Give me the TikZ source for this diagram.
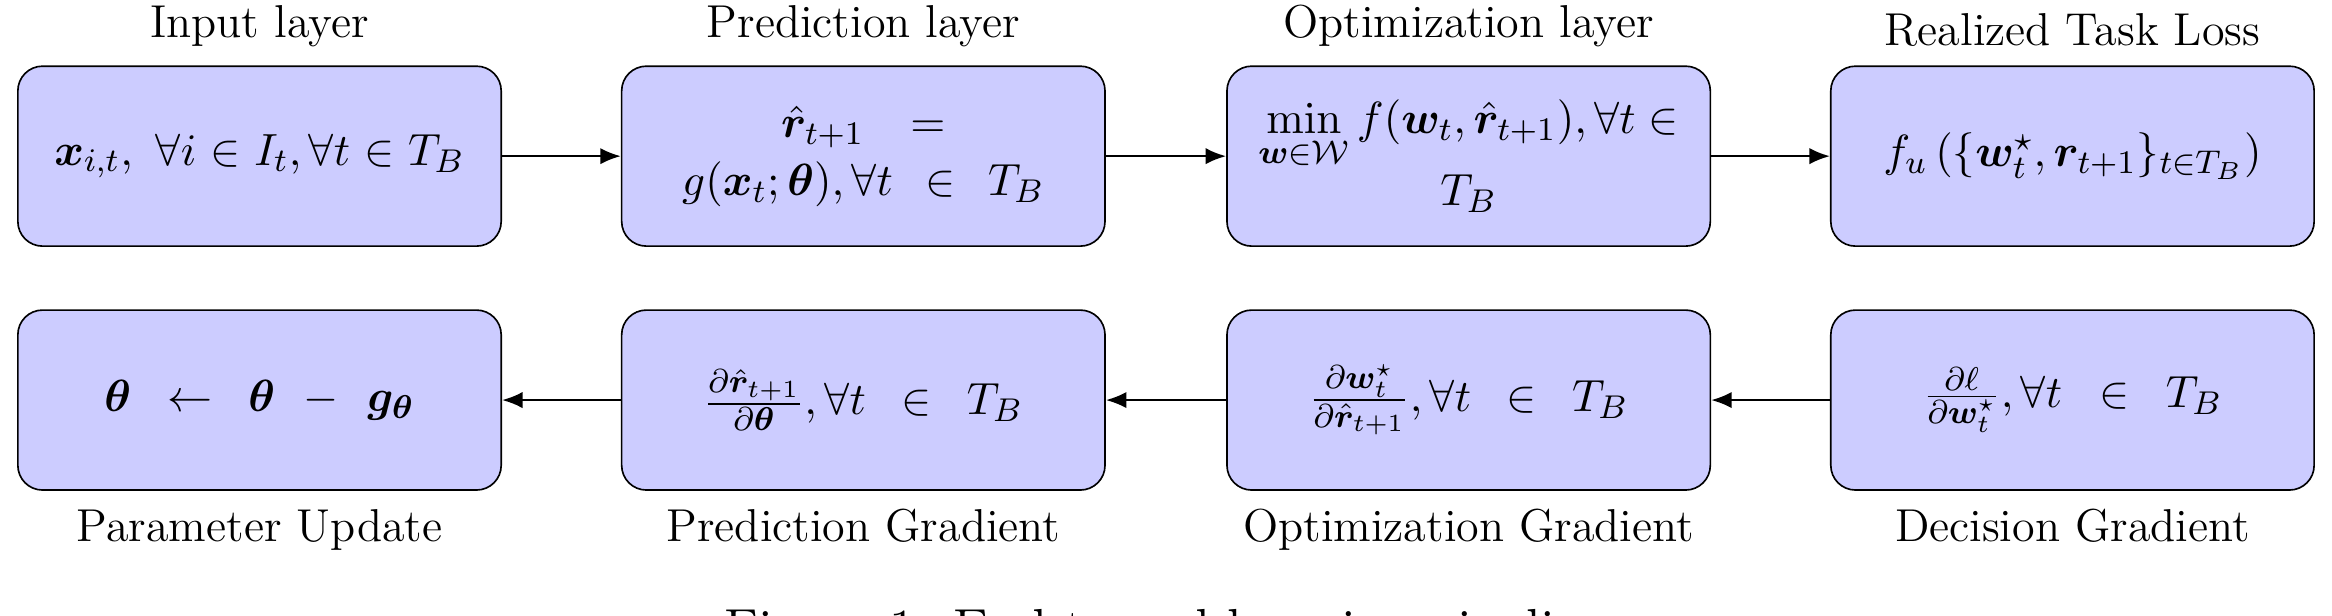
\documentclass[tikz,border=0pt]{standalone}
\usepackage{amsmath,amssymb,bm}
\usetikzlibrary{arrows.meta}
\begin{document}
\begin{tikzpicture}[x=0.0127cm,y=-0.0127cm,
  box/.style={draw,rounded corners=6pt,fill={rgb,255:red,204;green,204;blue,255},minimum width=325*0.0127cm,minimum height=121*0.0127cm,text width=290*0.0127cm,align=center,font=\fontsize{11.2}{14}\selectfont},
  lab/.style={font=\fontsize{11.2}{14}\selectfont},
  arr/.style={-{Latex[length=5pt,width=4pt]},semithick}]
\useasboundingbox (0,0) rectangle (1568,414);
\begin{scope}
\clip (0,0) rectangle (1568,414);
\node[box] (in) at (174.5,105) {$\bm{x}_{i,t},\ \forall i\in I_t,\forall t\in T_B$};
\node[box] (pr) at (580.5,105) {$\hat{\bm{r}}_{t+1}\ =\ g(\bm{x}_t;\bm{\theta}),\forall t\ \in\ T_B$};
\node[box] (op) at (987.5,105) {$\displaystyle\min_{\bm{w}\in\mathcal{W}} f(\bm{w}_t,\hat{\bm{r}}_{t+1}),\forall t\in T_B$};
\node[box] (rl) at (1393.5,105) {$f_u\left(\{\bm{w}^\star_t,\bm{r}_{t+1}\}_{t\in T_B}\right)$};
\node[box] (pu) at (174.5,269) {$\bm{\theta}\ \leftarrow\ \bm{\theta}\ -\ \bm{g}_{\bm{\theta}}$};
\node[box] (pg) at (580.5,269) {$\frac{\partial\hat{\bm{r}}_{t+1}}{\partial\bm{\theta}},\forall t\ \in\ T_B$};
\node[box] (og) at (987.5,269) {$\frac{\partial\bm{w}^\star_t}{\partial\hat{\bm{r}}_{t+1}},\forall t\ \in\ T_B$};
\node[box] (dg) at (1393.5,269) {$\frac{\partial\ell}{\partial\bm{w}^\star_t},\forall t\ \in\ T_B$};
\node[lab,anchor=south] (l1) at ([yshift=1pt]in.north) {Input layer};
\node[lab,anchor=south] (l2) at ([yshift=1pt]pr.north) {Prediction layer};
\node[lab,anchor=south] (l3) at ([yshift=1pt]op.north) {Optimization layer};
\node[lab,anchor=south] (l4) at ([yshift=1pt]rl.north) {Realized Task Loss};
\node[lab,anchor=north] (b1) at ([yshift=-1pt]pu.south) {Parameter Update};
\node[lab,anchor=north] (b2) at ([yshift=-1pt]pg.south) {Prediction Gradient};
\node[lab,anchor=north] (b3) at ([yshift=-1pt]og.south) {Optimization Gradient};
\node[lab,anchor=north] (b4) at ([yshift=-1pt]dg.south) {Decision Gradient};
\draw[arr] (in) -- (pr);
\draw[arr] (pr) -- (op);
\draw[arr] (op) -- (rl);
\draw[arr] (dg) -- (og);
\draw[arr] (og) -- (pg);
\draw[arr] (pg) -- (pu);
\node[lab,anchor=north,font=\fontsize{13}{16}\selectfont] (cap) at (784,400) {Figure 1: End-to-end learning pipeline};
\end{scope}
\end{tikzpicture}
\end{document}
